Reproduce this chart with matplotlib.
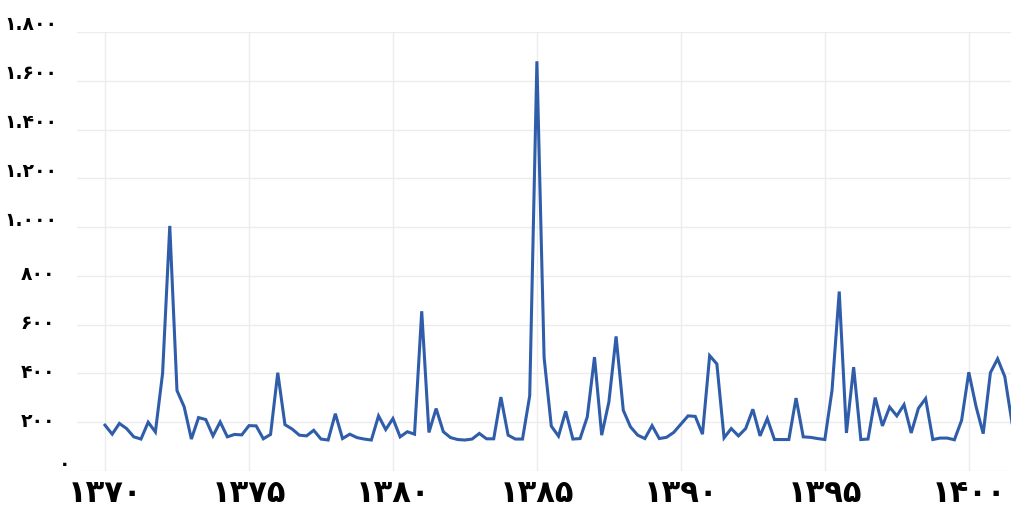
import numpy as np
import matplotlib
matplotlib.use("Agg")
import matplotlib.pyplot as plt

# Quarterly series, starting at year 1370 (Solar Hijri)
start_year = 1370
periods_per_year = 4
values = [
    188, 151, 195, 174, 140, 131, 200, 160, 400, 1005,
    330, 263, 131, 219, 211, 144, 201, 140, 150, 148,
    186, 185, 132, 150, 403, 190, 172, 147, 144, 167,
    131, 127, 235, 133, 151, 137, 131, 127, 226, 170,
    215, 140, 161, 151, 655, 158, 256, 161, 137, 129,
    127, 131, 154, 132, 132, 303, 147, 131, 131, 308,
    1680, 465, 184, 143, 245, 131, 133, 222, 467, 147,
    283, 552, 249, 181, 147, 133, 186, 133, 138, 158,
    192, 226, 224, 151, 473, 439, 136, 174, 144, 174,
    253, 144, 215, 129, 129, 129, 299, 140, 138, 133,
    129, 331, 736, 156, 426, 129, 131, 301, 185, 262,
    226, 272, 156, 257, 297, 129, 135, 135, 128, 208,
    405, 265, 153, 403, 460, 387, 198,
]
x_ticks = [1370, 1375, 1380, 1385, 1390, 1395, 1400]
x_tick_labels = ["۱۳۷۰", "۱۳۷۵", "۱۳۸۰", "۱۳۸۵", "۱۳۹۰", "۱۳۹۵", "۱۴۰۰"]
y_ticks = [0, 200, 400, 600, 800, 1000, 1200, 1400, 1600, 1800]
y_tick_labels = ["۰", "۲۰۰", "۴۰۰", "۶۰۰", "۸۰۰", "۱.۰۰۰", "۱.۲۰۰", "۱.۴۰۰", "۱.۶۰۰", "۱.۸۰۰"]

x = start_year + np.arange(len(values)) / periods_per_year

W, H = 1012, 509
fig = plt.figure(figsize=(W / 100, H / 100), dpi=100)
ax_left, ax_right, ax_top, ax_bottom = 77, 1012, 32, 471
ax = fig.add_axes([ax_left / W, (H - ax_bottom) / H,
                   (ax_right - ax_left) / W, (ax_bottom - ax_top) / H])

ax.plot(x, values, color="#2f5daa", lw=2.2, solid_joinstyle="miter", zorder=3)

ax.set_xlim(1370 - (105 - 77) / 28.8, 1401.5)
ax.set_ylim(0, 1800)
ax.set_xticks(x_ticks)
ax.set_xticklabels(x_tick_labels, fontsize=22, fontweight="bold",
                   family=["DejaVu Sans"])
ax.set_yticks(y_ticks)
ax.set_yticklabels([])
ax.tick_params(axis="both", length=0)
ax.tick_params(axis="x", pad=6)
ax.grid(True, color="#ececec", lw=1.0, zorder=0)
for s in ax.spines.values():
    s.set_visible(False)

px_per_unit = (ax_bottom - ax_top) / 1800.0
for v, lab in zip(y_ticks, y_tick_labels):
    if v == 0:
        xpos, ha, off = 65, "center", 7
    elif v >= 1000:
        xpos, ha, off = 57, "right", 7
    else:
        xpos, ha, off = 55, "right", 1
    ax.text(xpos / W, v + off / px_per_unit, lab,
            transform=matplotlib.transforms.blended_transform_factory(fig.transFigure, ax.transData),
            ha=ha, va="center", fontsize=13.5, fontweight="bold",
            family=["DejaVu Sans"], clip_on=False)

fig.savefig("out.png", dpi=100)
